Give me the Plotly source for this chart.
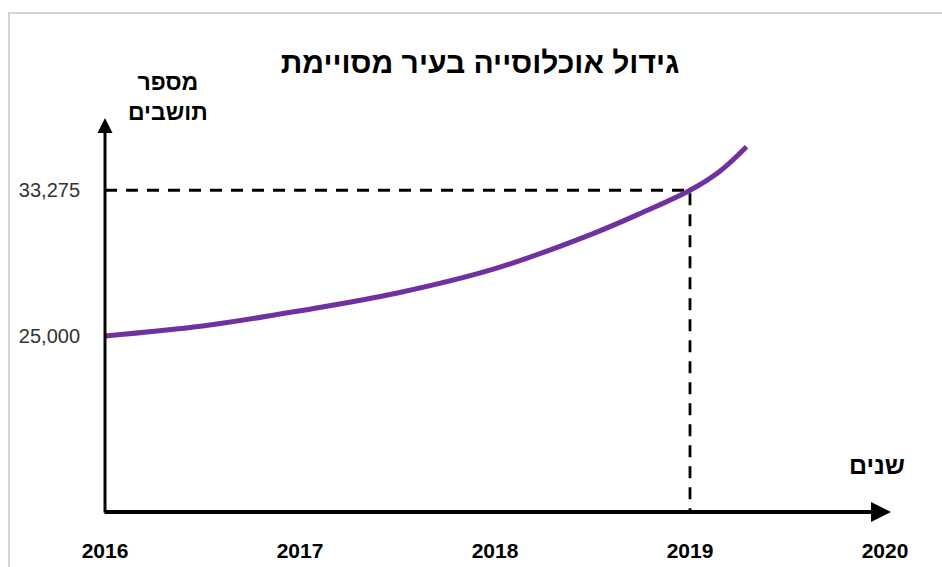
import plotly.graph_objects as go

# ---- data ----
years = [2016.0, 2016.5, 2017.0, 2017.5, 2018.0, 2018.5, 2018.75, 2019.0, 2019.15, 2019.29]
population = [25000, 25560, 26430, 27440, 28820, 30800, 31980, 33275, 34330, 35750]

x_ticks = [2016, 2017, 2018, 2019, 2020]
x_tick_labels = ["2016", "2017", "2018", "2019", "2020"]
y_ticks = [25000, 33275]
y_tick_labels = ["25,000", "33,275"]

ref_year = 2019
ref_value = 33275

title_text = "גידול אוכלוסייה בעיר מסויימת"
y_title = "מספר<br>תושבים"
x_title = "שנים"

X_RANGE = [2016, 2020]
Y_RANGE = [15000, 38400]

FONT = "Liberation Sans, DejaVu Sans, Arial"

W, H = 942, 567
PLOT_L, PLOT_R, PLOT_T, PLOT_B = 105, 885, 100, 512   # page pixels
PW, PH = PLOT_R - PLOT_L, PLOT_B - PLOT_T


def px(p):
    return (p - PLOT_L) / PW


def py(p):
    return (PLOT_B - p) / PH


fig = go.Figure()

# dashed reference lines
fig.add_trace(go.Scatter(
    x=[X_RANGE[0], ref_year, ref_year], y=[ref_value, ref_value, Y_RANGE[0]],
    mode="lines", line=dict(color="black", width=2.8, dash="12px,9px"),
    hoverinfo="skip", showlegend=False, cliponaxis=False))

# population curve
fig.add_trace(go.Scatter(
    x=years, y=population, mode="lines",
    line=dict(color="#7030A0", width=5, shape="spline", smoothing=1.0),
    showlegend=False, cliponaxis=False))

# x axis with arrow (tip just past 2020)
fig.add_annotation(x=px(891), y=0, xref="paper", yref="paper",
                   ax=-(891 - PLOT_L + 2), ay=0, axref="pixel", ayref="pixel", text="",
                   showarrow=True, arrowhead=2, arrowsize=1, arrowwidth=4, arrowcolor="black")
# y axis with arrow
fig.add_annotation(x=0, y=py(118), xref="paper", yref="paper",
                   ax=0, ay=(PLOT_B + 2 - 118), axref="pixel", ayref="pixel", text="",
                   showarrow=True, arrowhead=2, arrowsize=1, arrowwidth=3, arrowcolor="black")

# axis titles
fig.add_annotation(x=px(168), y=py(97), xref="paper", yref="paper",
                   text="<b>" + y_title + "</b>", showarrow=False, align="center",
                   xanchor="center", yanchor="middle",
                   font=dict(family=FONT, size=23, color="black"))
fig.add_annotation(x=px(877), y=py(465), xref="paper", yref="paper",
                   text="<b>" + x_title + "</b>", showarrow=False,
                   xanchor="center", yanchor="middle",
                   font=dict(family=FONT, size=25, color="black"))

# light frame
fig.add_shape(type="rect", xref="paper", yref="paper",
              x0=px(9), x1=1.3, y0=-0.4, y1=py(13),
              line=dict(color="#d4d4d4", width=2))

fig.update_layout(
    width=W, height=H,
    margin=dict(l=PLOT_L, r=W - PLOT_R, t=PLOT_T, b=H - PLOT_B),
    paper_bgcolor="white", plot_bgcolor="white",
    title=dict(text="<b>" + title_text + "</b>", x=480 / W, xanchor="center",
               y=1 - 62 / H, yanchor="middle",
               font=dict(family=FONT, size=30, color="black")),
    xaxis=dict(range=X_RANGE, tickvals=x_ticks, ticktext=x_tick_labels,
               showgrid=False, zeroline=False, showline=False, automargin=False,
               ticks="outside", ticklen=20, tickcolor="rgba(0,0,0,0)",
               tickfont=dict(family=FONT, size=21, color="black", weight="bold")),
    yaxis=dict(range=Y_RANGE, tickvals=y_ticks, ticktext=y_tick_labels,
               showgrid=False, zeroline=False, showline=False, automargin=False,
               ticks="outside", ticklen=20, tickcolor="rgba(0,0,0,0)",
               tickfont=dict(family=FONT, size=20, color="#333333")),
)

fig.write_html("out.html", config={"displayModeBar": False},
               post_script="document.body.style.margin='0';document.body.style.overflow='hidden';")
